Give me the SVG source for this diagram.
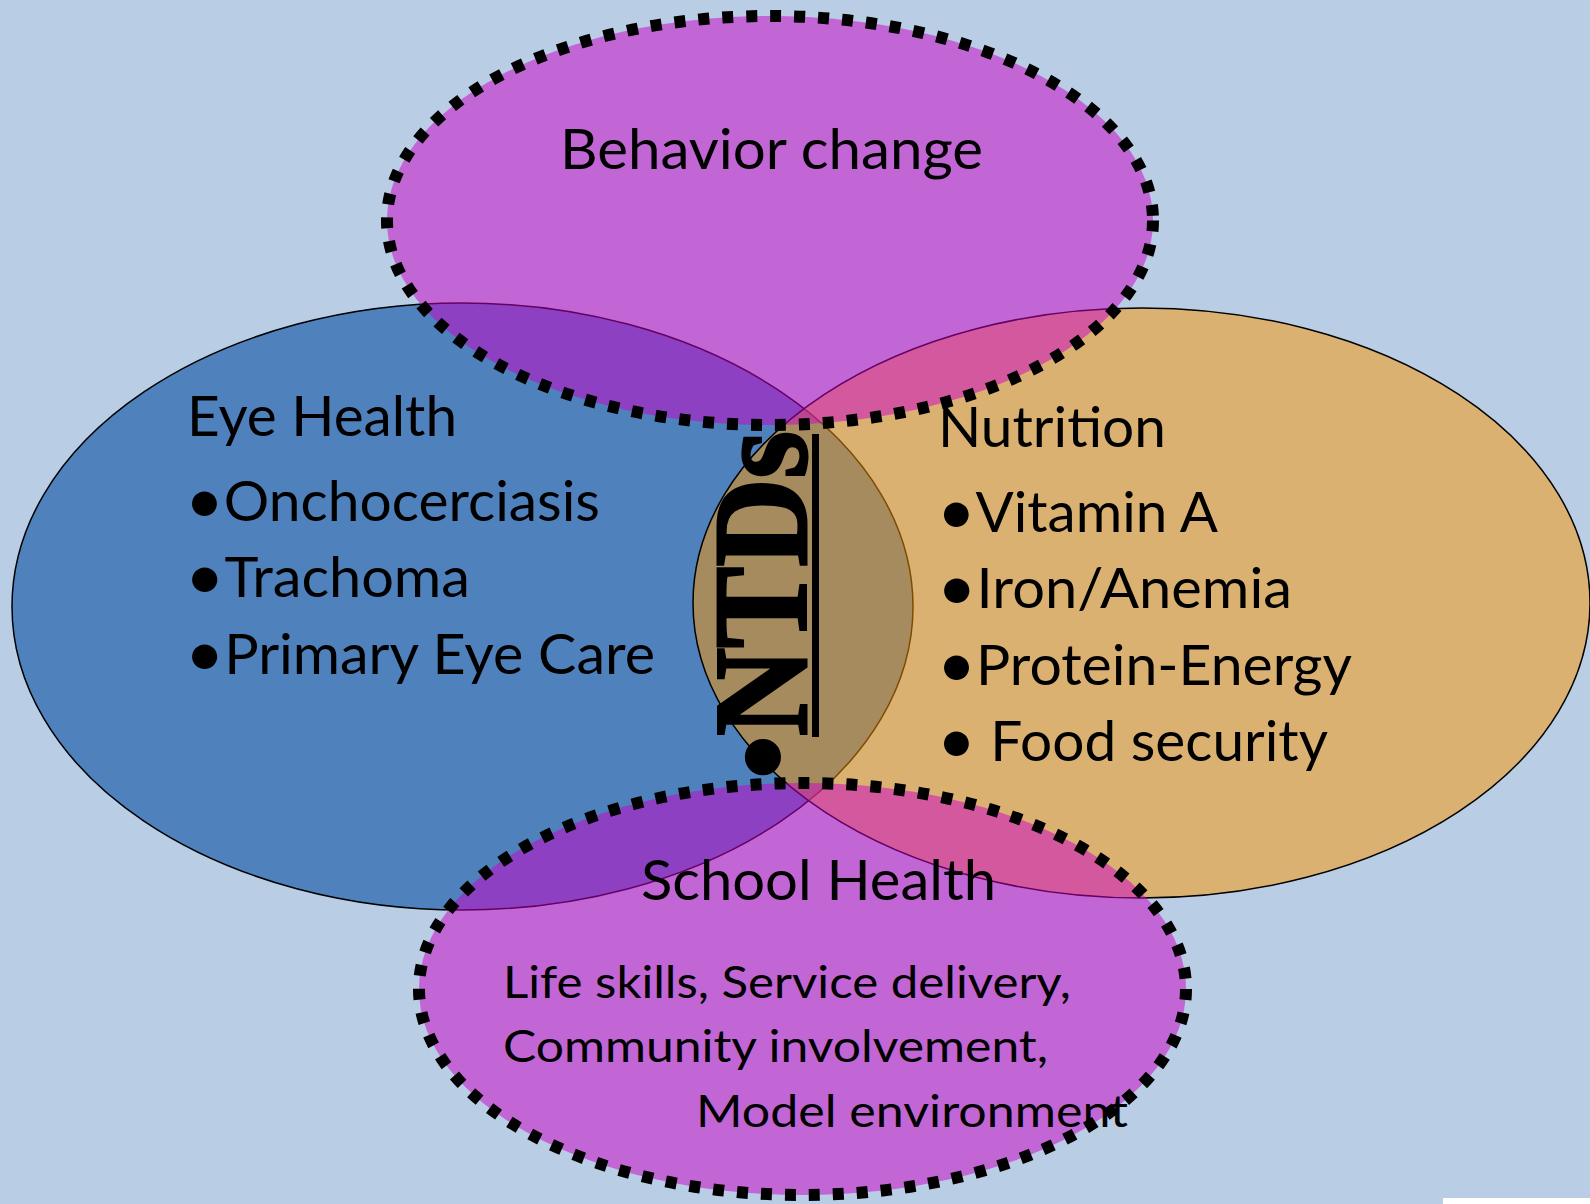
<svg xmlns="http://www.w3.org/2000/svg" width="1590" height="1204" viewBox="0 0 1590 1204">
<style>
.t{font-family:Lato,"Open Sans","Liberation Sans",sans-serif;fill:#000}
.m{font-size:56px}
.s{font-size:45px}
.b{font-size:66px}
.ntd{font-family:"Liberation Serif","Times New Roman",serif;font-weight:bold;font-size:134px;fill:#000}
.solid{stroke:#000;stroke-width:1.5}
.dotted{fill:rgb(203,0,200);fill-opacity:0.5;stroke:#000;stroke-width:12;stroke-dasharray:11 13}
</style>
<rect x="0" y="0" width="1590" height="1204" fill="#B9CDE5"/>
<rect x="1443" y="1198" width="147" height="6" fill="#FFFFFF"/>
<g id="eye-health">
<ellipse cx="462.5" cy="606.5" rx="450.5" ry="303.5" fill="#4F81BD" class="solid"/>
</g>
<g id="nutrition">
<ellipse cx="1141.5" cy="603" rx="448.5" ry="295" fill="rgb(253,149,0)" fill-opacity="0.5" class="solid"/>
</g>
<g id="behavior-change">
<ellipse cx="770" cy="220.5" rx="383" ry="204.5" class="dotted"/>
</g>
<g id="school-health">
<ellipse cx="802.5" cy="989" rx="383.5" ry="206" class="dotted"/>
</g>
<g id="labels">
<text class="t m" x="560" y="169" textLength="423" lengthAdjust="spacingAndGlyphs">Behavior change</text>
<text class="t m" x="187" y="436" textLength="270" lengthAdjust="spacingAndGlyphs">Eye Health</text>
<text class="t m" x="185" y="521" textLength="415" lengthAdjust="spacingAndGlyphs"><tspan class="b" dy="2">•</tspan><tspan dy="-2">Onchocerciasis</tspan></text>
<text class="t m" x="185" y="597" textLength="285" lengthAdjust="spacingAndGlyphs"><tspan class="b" dy="2">•</tspan><tspan dy="-2">Trachoma</tspan></text>
<text class="t m" x="185" y="674" textLength="470" lengthAdjust="spacingAndGlyphs"><tspan class="b" dy="2">•</tspan><tspan dy="-2">Primary Eye Care</tspan></text>
<text class="t m" x="938" y="447" textLength="228" lengthAdjust="spacingAndGlyphs">Nutrition</text>
<text class="t m" x="937" y="532" textLength="281" lengthAdjust="spacingAndGlyphs"><tspan class="b" dy="2">•</tspan><tspan dy="-2">Vitamin A</tspan></text>
<text class="t m" x="937" y="608" textLength="355" lengthAdjust="spacingAndGlyphs"><tspan class="b" dy="2">•</tspan><tspan dy="-2">Iron/Anemia</tspan></text>
<text class="t m" x="937" y="685" textLength="415" lengthAdjust="spacingAndGlyphs"><tspan class="b" dy="2">•</tspan><tspan dy="-2">Protein-Energy</tspan></text>
<text class="t m" x="937" y="761" textLength="391" lengthAdjust="spacingAndGlyphs"><tspan class="b" dy="2">•</tspan><tspan dy="-2"> Food security</tspan></text>
<text class="t m" x="641" y="900" textLength="355" lengthAdjust="spacingAndGlyphs">School Health</text>
<text class="t s" x="503" y="998" textLength="568" lengthAdjust="spacingAndGlyphs">Life skills, Service delivery,</text>
<text class="t s" x="503" y="1062" textLength="545" lengthAdjust="spacingAndGlyphs">Community involvement,</text>
<text class="t s" x="696" y="1127" textLength="432" lengthAdjust="spacingAndGlyphs">Model environment</text>
</g>
<g id="ntds">
<text class="ntd" transform="translate(807,757) rotate(-90)" text-anchor="middle">•</text>
<text class="ntd" transform="translate(806,736) rotate(-90)" textLength="305" lengthAdjust="spacingAndGlyphs" stroke="#000" stroke-width="3">NTDs</text>
<line x1="815.5" y1="434" x2="815.5" y2="737" stroke="#000" stroke-width="7"/>
</g>
<g id="connectors"></g>
</svg>
